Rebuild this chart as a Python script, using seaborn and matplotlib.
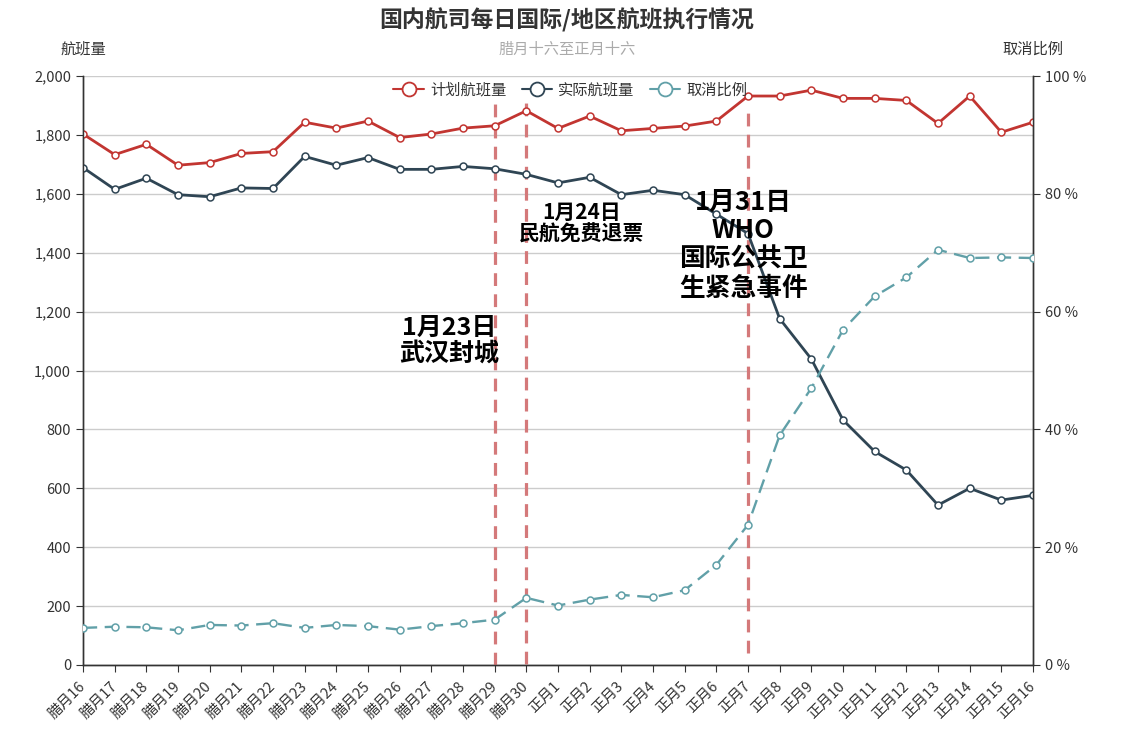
import numpy as np
import pandas as pd
import matplotlib
matplotlib.use("Agg")
import matplotlib.pyplot as plt
from matplotlib.lines import Line2D
from matplotlib.ticker import FuncFormatter, MultipleLocator
import seaborn as sns

# ---------------- data ----------------
dates = ["腊月16", "腊月17", "腊月18", "腊月19", "腊月20", "腊月21", "腊月22", "腊月23",
         "腊月24", "腊月25", "腊月26", "腊月27", "腊月28", "腊月29", "腊月30",
         "正月1", "正月2", "正月3", "正月4", "正月5", "正月6", "正月7", "正月8",
         "正月9", "正月10", "正月11", "正月12", "正月13", "正月14", "正月15", "正月16"]
planned = [1803, 1733, 1768, 1697, 1706, 1737, 1743, 1843, 1823, 1847, 1791, 1803, 1823, 1831, 1882,
           1822, 1864, 1814, 1822, 1830, 1847, 1932, 1932, 1952, 1924, 1924, 1917, 1839, 1932, 1809, 1843]
actual = [1689, 1615, 1653, 1597, 1590, 1620, 1618, 1727, 1697, 1723, 1683, 1683, 1693, 1685, 1666,
          1637, 1656, 1597, 1612, 1597, 1531, 1465, 1176, 1039, 832, 725, 662, 543, 600, 560, 576]
cancel_pct = [6.3, 6.5, 6.4, 5.9, 6.8, 6.7, 7.1, 6.3, 6.8, 6.6, 6.0, 6.6, 7.1, 7.7, 11.4,
              10.1, 11.1, 11.9, 11.5, 12.7, 17.0, 23.8, 39.0, 47.0, 56.9, 62.6, 65.8, 70.5, 69.1, 69.2, 69.1]
series_names = ["计划航班量", "实际航班量", "取消比例"]
event_dates = ["腊月29", "腊月30", "正月7"]
event_labels = ["1月23日\n武汉封城", "1月24日\n民航免费退票", "1月31日\nWHO\n国际公共卫\n生紧急事件"]

df = pd.DataFrame({"date": dates, "planned": planned, "actual": actual, "cancel": cancel_pct})
df["pos"] = np.arange(len(df))

# ---------------- style ----------------
sns.set_style("white")
plt.rcParams["font.family"] = ["Noto Sans CJK SC", "DejaVu Sans"]
plt.rcParams["axes.unicode_minus"] = False

RED = "#c23531"
NAVY = "#2f4554"
TEAL = "#61a0a8"
EVENT = "#d4797a"
AXC = "#333333"

W, H = 1134, 741
fig = plt.figure(figsize=(W / 100, H / 100), dpi=100)
ax = fig.add_axes([83 / W, 1 - 665 / H, (1033 - 83) / W, (665 - 76) / H])
ax2 = ax.twinx()

# event lines (drawn on left axis)
ev_ranges = {"腊月29": (0, 1905), "腊月30": (5, 1915), "正月7": (40, 1880)}
for d in event_dates:
    p = dates.index(d)
    lo, hi = ev_ranges[d]
    ax.plot([p, p], [lo, hi], color=EVENT, lw=2.3, dashes=(4.0, 2.6), zorder=3)

mk = dict(marker="o", markerfacecolor="white", markersize=5, markeredgewidth=1.1)
sns.lineplot(data=df, x="pos", y="planned", ax=ax, color=RED, lw=2, markeredgecolor=RED,
             legend=False, zorder=4, **mk)
sns.lineplot(data=df, x="pos", y="actual", ax=ax, color=NAVY, lw=2, markeredgecolor=NAVY,
             legend=False, zorder=4, **mk)
sns.lineplot(data=df, x="pos", y="cancel", ax=ax2, color=TEAL, lw=1.7, markeredgecolor=TEAL,
             linestyle=(0, (6, 3.2)), legend=False, zorder=4, **mk)

# axes setup
ax.set_xlim(0, len(dates) - 1)
ax.set_ylim(0, 2000)
ax2.set_ylim(0, 100)
ax.yaxis.set_major_locator(MultipleLocator(200))
ax2.yaxis.set_major_locator(MultipleLocator(20))
ax.yaxis.set_major_formatter(FuncFormatter(lambda v, p: f"{int(v):,}"))
ax2.yaxis.set_major_formatter(FuncFormatter(lambda v, p: f"{int(v)} %"))
ax.set_xticks(df["pos"])
ax.set_xticklabels(dates, rotation=45, ha="right", va="center", rotation_mode="anchor")
ax.set_xlabel("")
ax.set_ylabel("")
ax2.set_ylabel("")

ax.set_axisbelow(True)
ax.yaxis.grid(True, color="#cccccc", lw=1)
ax.xaxis.grid(False)

for a in (ax, ax2):
    a.spines["top"].set_visible(False)
    for s in ("left", "right", "bottom"):
        a.spines[s].set_color(AXC)
        a.spines[s].set_linewidth(1)
ax.tick_params(axis="y", which="both", direction="out", length=5, color=AXC,
               labelsize=10.5, labelcolor=AXC, left=True)
ax.tick_params(axis="x", direction="out", length=5, color=AXC, labelsize=10.5,
               labelcolor=AXC, bottom=True, pad=9)
ax2.tick_params(axis="y", direction="out", length=5, color=AXC, labelsize=10.5,
                labelcolor=AXC, right=True)

# annotations
ann_pos = [(11.55, 1100, 18), (15.75, 1500, 15), (20.85, 1425, 18.5)]
for (x, y, fs), txt in zip(ann_pos, event_labels):
    ax.text(x, y, txt, ha="center", va="center", fontsize=fs, fontweight="bold",
            color="black", linespacing=1.08, zorder=6)

# titles
fig.text(0.5, 1 - 20 / H, "国内航司每日国际/地区航班执行情况", ha="center", va="center",
         fontsize=16.5, fontweight="bold", color="#333333")
fig.text(0.5, 1 - 49 / H, "腊月十六至正月十六", ha="center", va="center",
         fontsize=11, color="#aaaaaa")
fig.text(83 / W, 1 - 49 / H, "航班量", ha="center", va="center", fontsize=11, color=AXC)
fig.text(1033 / W, 1 - 49 / H, "取消比例", ha="center", va="center", fontsize=11, color=AXC)

# legend
handles = [Line2D([0], [0], color=c, lw=1.5, marker="o", markersize=10,
                  markerfacecolor="white", markeredgecolor=c, markeredgewidth=1.3)
           for c in (RED, NAVY, TEAL)]
fig.legend(handles, series_names, loc="center", bbox_to_anchor=(0.503, 1 - 90 / H),
           ncol=3, frameon=False, fontsize=11, handlelength=2.0, columnspacing=1.0,
           handletextpad=0.4, labelcolor=AXC)

fig.savefig("out.png", dpi=100)
